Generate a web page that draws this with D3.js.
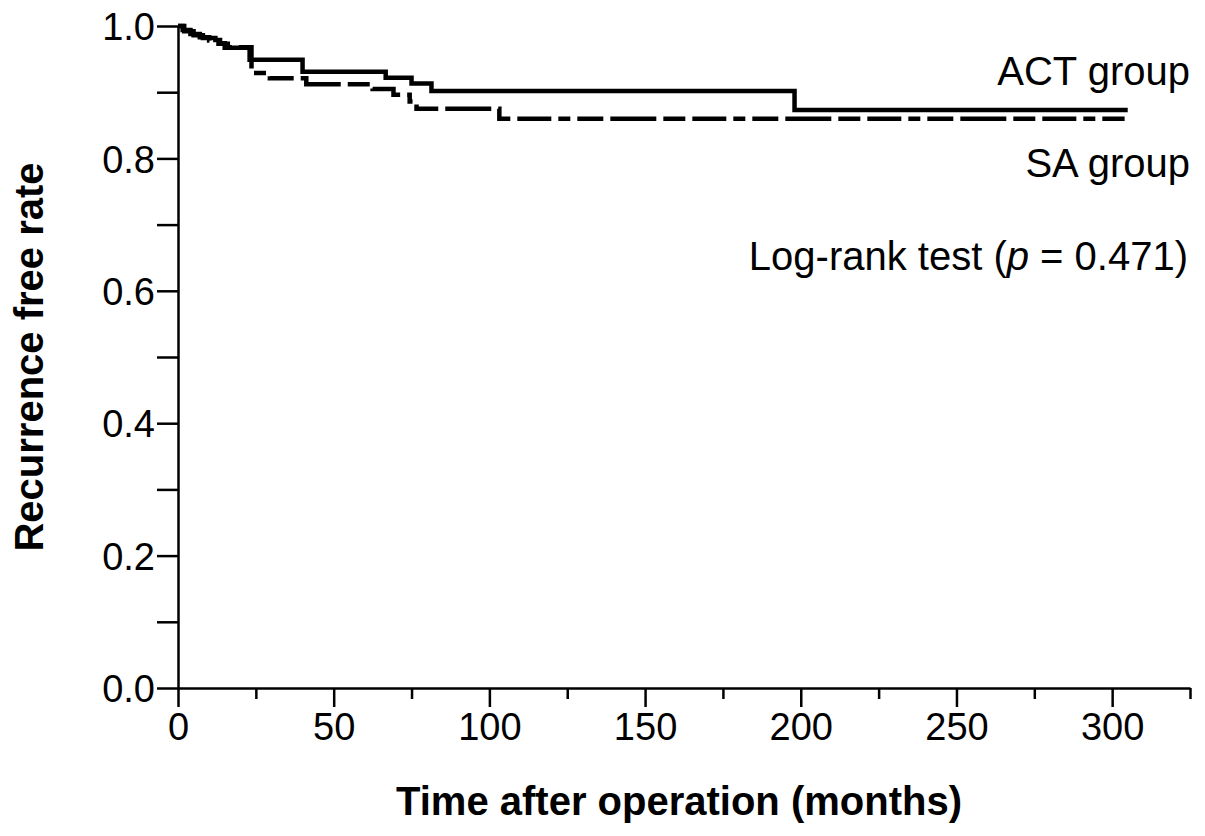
<!DOCTYPE html>
<html>
<head>
<meta charset="utf-8">
<script src="https://cdn.jsdelivr.net/npm/d3@7"></script>
<style>
  html, body { margin: 0; padding: 0; background: #fff; }
  svg text { font-family: "Liberation Sans", Arial, Helvetica, sans-serif; fill: #000; }
</style>
</head>
<body>
<div id="chart"></div>
<script>
// Kaplan-Meier steps (months, recurrence free rate)
const actTime = [0, 2, 5, 8, 12, 13.5, 15, 23, 40, 66.7, 75, 81.4, 198, 305];
const actRate = [1.0, 0.992, 0.986, 0.982, 0.979, 0.974, 0.967, 0.949, 0.931, 0.922, 0.913, 0.902, 0.873, 0.873];
const saTime  = [0, 1.5, 4, 7, 10, 13, 16, 23.6, 29.5, 41.2, 62.5, 69.2, 74.4, 76.6, 103.2, 304];
const saRate  = [1.0, 0.994, 0.988, 0.983, 0.978, 0.973, 0.968, 0.929, 0.921, 0.912, 0.905, 0.896, 0.886, 0.875, 0.860, 0.860];

const xMajor = [0, 50, 100, 150, 200, 250, 300];
const xMinor = [25, 75, 125, 175, 225, 275, 325];
const yTicks = [0, 0.1, 0.2, 0.3, 0.4, 0.5, 0.6, 0.7, 0.8, 0.9, 1.0];
const yLabels = ["0.0", "0.2", "0.4", "0.6", "0.8", "1.0"];

const labels = {
  act: "ACT group",
  sa: "SA group",
  x: "Time after operation (months)",
  y: "Recurrence free rate"
};

(function () {
  const W = 1205, H = 836;
  const left = 178, right = 1190, top = 26, bottom = 688;

  const svg = d3.select("#chart").append("svg")
      .attr("width", W)
      .attr("height", H);

  const x = d3.scaleLinear().domain([0, 325]).range([left, right]);
  const y = d3.scaleLinear().domain([0, 1]).range([bottom, top]);

  // --- x axis: major ticks with labels, minor ticks shorter ---
  const gx = svg.append("g").attr("transform", `translate(0,${bottom})`);
  gx.call(d3.axisBottom(x).tickValues(xMajor).tickSize(19).tickSizeOuter(0).tickFormat(d3.format("d")));
  gx.append("g").call(d3.axisBottom(x).tickValues(xMinor).tickSize(11).tickSizeOuter(0).tickFormat(""))
    .select(".domain").remove();
  gx.selectAll("line, path").attr("stroke", "#000").attr("stroke-width", 2.5);
  gx.selectAll("text").attr("font-size", 38).attr("dy", null).attr("y", 52);

  // --- y axis ---
  const gy = svg.append("g").attr("transform", `translate(${left},0)`);
  gy.call(d3.axisLeft(y).tickValues(yTicks).tickSize(21).tickSizeOuter(0)
    .tickFormat(d => {
      const s = d3.format(".1f")(d);
      return yLabels.includes(s) ? s : "";
    }));
  gy.selectAll("line, path").attr("stroke", "#000").attr("stroke-width", 2.5);
  gy.selectAll("text").attr("font-size", 38).attr("x", -23).attr("dy", "0.36em");

  // --- curves ---
  const line = d3.line()
    .x(d => x(d[0]))
    .y(d => y(d[1]))
    .curve(d3.curveStepAfter);

  const act = d3.zip(actTime, actRate);
  const sa  = d3.zip(saTime, saRate);

  svg.append("path")
    .datum(sa)
    .attr("fill", "none")
    .attr("stroke", "#000")
    .attr("stroke-width", 4.5)
    .attr("stroke-dasharray", "46,7,22,7,34,7,12,7,26,7")
    .attr("d", line);

  svg.append("path")
    .datum(act)
    .attr("fill", "none")
    .attr("stroke", "#000")
    .attr("stroke-width", 4.5)
    .attr("d", line);

  // --- annotations ---
  svg.append("text")
    .attr("x", 1190).attr("y", 85)
    .attr("text-anchor", "end").attr("font-size", 40)
    .text(labels.act);

  svg.append("text")
    .attr("x", 1190).attr("y", 177)
    .attr("text-anchor", "end").attr("font-size", 40)
    .text(labels.sa);

  const lr = svg.append("text")
    .attr("x", 1188).attr("y", 270)
    .attr("text-anchor", "end").attr("font-size", 40);
  lr.append("tspan").text("Log-rank test (");
  lr.append("tspan").attr("font-style", "italic").text("p");
  lr.append("tspan").text(" = 0.471)");

  // --- axis titles ---
  svg.append("text")
    .attr("x", (left + 1190) / 2 - 5).attr("y", 815)
    .attr("text-anchor", "middle").attr("font-size", 40).attr("font-weight", "bold")
    .text(labels.x);

  svg.append("text")
    .attr("transform", `translate(43,${(top + bottom) / 2}) rotate(-90)`)
    .attr("text-anchor", "middle").attr("font-size", 40).attr("font-weight", "bold")
    .text(labels.y);
})();
</script>
</body>
</html>
